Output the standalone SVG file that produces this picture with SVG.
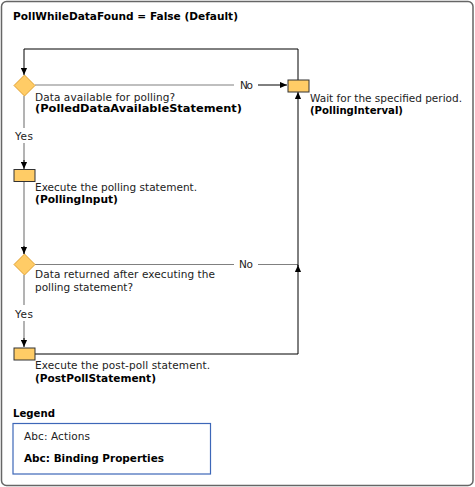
<svg xmlns="http://www.w3.org/2000/svg" width="475" height="487" viewBox="0 0 475 487">
<defs>
<style>
text{font-family:"DejaVu Sans","Liberation Sans",sans-serif;font-size:10.5px;fill:#222}
.b{font-weight:bold;fill:#000}
.t{font-size:10.8px}
.ln{fill:none;stroke:#000;stroke-width:1}
.gl{fill:none;stroke:#808080;stroke-width:1.2}
.box{fill:#FFCC66;stroke:#333;stroke-width:1}
.dia{fill:#FFCC66;stroke:#E0A030;stroke-width:1}
</style>
<marker id="ah" viewBox="0 0 8 8" refX="8" refY="4" markerWidth="7" markerHeight="7" markerUnits="userSpaceOnUse" orient="auto">
<path d="M0,0.5 L8,4 L0,7.5 Z" fill="#000"/>
</marker>
</defs>
<rect x="1.5" y="1.5" width="471.5" height="484" rx="5" fill="#fff" stroke="#666" stroke-width="1.5"/>
<text class="b t" x="13" y="20" textLength="225" lengthAdjust="spacingAndGlyphs">PollWhileDataFound = False (Default)</text>

<g id="connectors">
<path class="ln" d="M298,80 V49 H24 V75" marker-end="url(#ah)"/>
<path class="gl" d="M35,85 H234"/>
<path class="ln" d="M258,85 H287" marker-end="url(#ah)"/>
<text x="240" y="89" textLength="13">No</text>
<path class="gl" d="M24,96 V128"/>
<path class="gl" d="M24,143 V162"/>
<path class="ln" d="M24,160 V169" marker-end="url(#ah)"/>
<text x="15" y="140" textLength="18">Yes</text>
<path class="gl" d="M24,182 V254"/>
<path class="ln" d="M24,246 V254" marker-end="url(#ah)"/>
<path class="gl" d="M35,264.5 H234"/>
<path class="gl" d="M258,264.5 H298"/>
<text x="239" y="268" textLength="14">No</text>
<path class="gl" d="M24,275 V305"/>
<path class="gl" d="M24,321 V340"/>
<path class="ln" d="M24,338 V347" marker-end="url(#ah)"/>
<text x="15" y="318" textLength="18">Yes</text>
<path class="ln" d="M35,354 H298 V265" marker-end="url(#ah)"/>
<path class="ln" d="M298,266 V92" marker-end="url(#ah)"/>
</g>

<g id="node-available">
<path class="dia" d="M24.5,75 L35,85.5 L24.5,96 L14,85.5 Z"/>
<text x="35" y="101" textLength="140">Data available for polling?</text>
<text class="b" x="35" y="112" textLength="207" lengthAdjust="spacingAndGlyphs">(PolledDataAvailableStatement)</text>
</g>
<g id="node-wait">
<rect class="box" x="288" y="80" width="21" height="12"/>
<text x="310" y="102" textLength="152">Wait for the specified period.</text>
<text class="b" x="310" y="114" textLength="93" lengthAdjust="spacingAndGlyphs">(PollingInterval)</text>
</g>
<g id="node-execute">
<rect class="box" x="14" y="169.5" width="21" height="12"/>
<text x="35" y="191" textLength="162">Execute the polling statement.</text>
<text class="b" x="35" y="203" textLength="83" lengthAdjust="spacingAndGlyphs">(PollingInput)</text>
</g>
<g id="node-returned">
<path class="dia" d="M24.5,254 L35,264.5 L24.5,275 L14,264.5 Z"/>
<text x="35" y="278" textLength="180">Data returned after executing the</text>
<text x="35" y="291" textLength="98">polling statement?</text>
</g>
<g id="node-postpoll">
<rect class="box" x="14" y="348" width="21" height="12"/>
<text x="35" y="369" textLength="175">Execute the post-poll statement.</text>
<text class="b" x="35" y="382" textLength="121" lengthAdjust="spacingAndGlyphs">(PostPollStatement)</text>
</g>

<g id="legend">
<text class="b" x="13" y="417" textLength="42" lengthAdjust="spacingAndGlyphs">Legend</text>
<rect x="13" y="423.5" width="197.5" height="50.5" fill="#fff" stroke="#3D67B8" stroke-width="1.2"/>
<text x="24" y="440" textLength="66">Abc: Actions</text>
<text class="b" x="24" y="462" textLength="140" lengthAdjust="spacingAndGlyphs">Abc: Binding Properties</text>
</g>
</svg>
